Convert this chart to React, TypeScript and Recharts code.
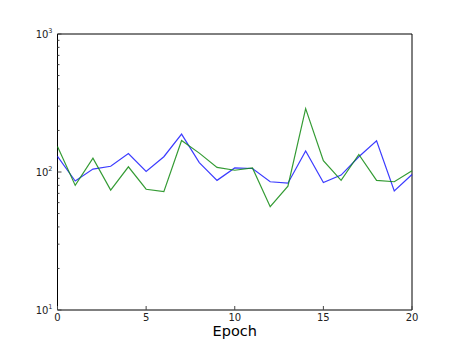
import { LineChart, Line, XAxis, YAxis, ReferenceArea } from "recharts";

const epochs = [0, 1, 2, 3, 4, 5, 6, 7, 8, 9, 10, 11, 12, 13, 14, 15, 16, 17, 18, 19, 20];
const blueSeries = [130, 86, 105, 110, 136, 101, 129, 188, 117, 87, 107, 106, 85, 83, 142, 84, 95, 129, 168, 73, 96];
const greenSeries = [153, 80, 126, 74, 109, 75, 72, 169, 137, 108, 103, 107, 56, 79, 288, 121, 87, 134, 87, 85, 102];
const xTicks = [0, 5, 10, 15, 20];
const yTicks = [
  10, 20, 30, 40, 50, 60, 70, 80, 90,
  100, 200, 300, 400, 500, 600, 700, 800, 900, 1000,
];

const data = epochs.map((e, i) => ({ epoch: e, blue: blueSeries[i], green: greenSeries[i] }));

const FONT = "'DejaVu Sans', sans-serif";
const TICK = "#444";

const isMajor = (v: number) => Math.abs(Math.log10(v) - Math.round(Math.log10(v))) < 1e-9;

function LeftTick(props: any) {
  const { x, y, payload } = props;
  const v = payload.value as number;
  const major = isMajor(v);
  return (
    <g>
      <line x1={x} x2={x + (major ? 4 : 2)} y1={y} y2={y} stroke={TICK} strokeWidth={1} />
      {major && (
        <text
          x={x - 5}
          y={y + 3.5}
          textAnchor="end"
          fontSize={10}
          fontFamily={FONT}
          fill="#222"
        >
          10
          <tspan dy={-4.5} fontSize={6.5}>
            {Math.round(Math.log10(v))}
          </tspan>
        </text>
      )}
    </g>
  );
}

function RightTick(props: any) {
  const { x, y, payload } = props;
  const major = isMajor(payload.value);
  return <line x1={x} x2={x - (major ? 4 : 2)} y1={y} y2={y} stroke={TICK} strokeWidth={1} />;
}

function BottomTick(props: any) {
  const { x, y, payload } = props;
  return (
    <g>
      <line x1={x} x2={x} y1={y} y2={y - 4} stroke={TICK} strokeWidth={1} />
      <text x={x} y={y + 11} textAnchor="middle" fontSize={10} fontFamily={FONT} fill="#222">
        {payload.value}
      </text>
    </g>
  );
}

function TopTick(props: any) {
  const { x, y } = props;
  return <line x1={x} x2={x} y1={y} y2={y + 4} stroke={TICK} strokeWidth={1} />;
}

export default function App() {
  return (
    <div style={{ position: "absolute", left: 0, top: 0, background: "#fff" }}>
      <LineChart
        width={457}
        height={345}
        data={data}
        margin={{ top: 34, right: 45, bottom: 0, left: 0 }}
      >
        <XAxis
          dataKey="epoch"
          type="number"
          domain={[0, 20]}
          ticks={xTicks}
          interval={0}
          height={35}
          axisLine={false}
          tickLine={false}
          tickSize={0}
          tickMargin={0}
          tick={<BottomTick />}
          label={{ value: "Epoch", position: "insideBottom", offset: 9, fontSize: 14.5, fill: "#000", fontFamily: FONT }}
        />
        <XAxis
          xAxisId="top"
          orientation="top"
          dataKey="epoch"
          type="number"
          domain={[0, 20]}
          ticks={xTicks}
          interval={0}
          height={0}
          axisLine={false}
          tickLine={false}
          tickSize={0}
          tickMargin={0}
          tick={<TopTick />}
        />
        <YAxis
          scale="log"
          type="number"
          domain={[10, 1000]}
          allowDataOverflow
          ticks={yTicks}
          interval={0}
          width={57.5}
          axisLine={false}
          tickLine={false}
          tickSize={0}
          tickMargin={0}
          tick={<LeftTick />}
        />
        <YAxis
          yAxisId="right"
          orientation="right"
          scale="log"
          type="number"
          domain={[10, 1000]}
          allowDataOverflow
          ticks={yTicks}
          interval={0}
          width={0}
          axisLine={false}
          tickLine={false}
          tickSize={0}
          tickMargin={0}
          tick={<RightTick />}
        />
        <Line
          dataKey="blue"
          type="linear"
          stroke="#1a1aff"
          strokeWidth={1.2}
          strokeOpacity={0.85}
          dot={false}
          isAnimationActive={false}
        />
        <Line
          dataKey="green"
          type="linear"
          stroke="#108a10"
          strokeWidth={1.2}
          strokeOpacity={0.85}
          dot={false}
          isAnimationActive={false}
        />
        <ReferenceArea
          x1={0}
          x2={20}
          y1={10}
          y2={1000}
          fill="none"
          stroke="#000"
          strokeWidth={1}
          ifOverflow="visible"
        />
      </LineChart>
    </div>
  );
}
